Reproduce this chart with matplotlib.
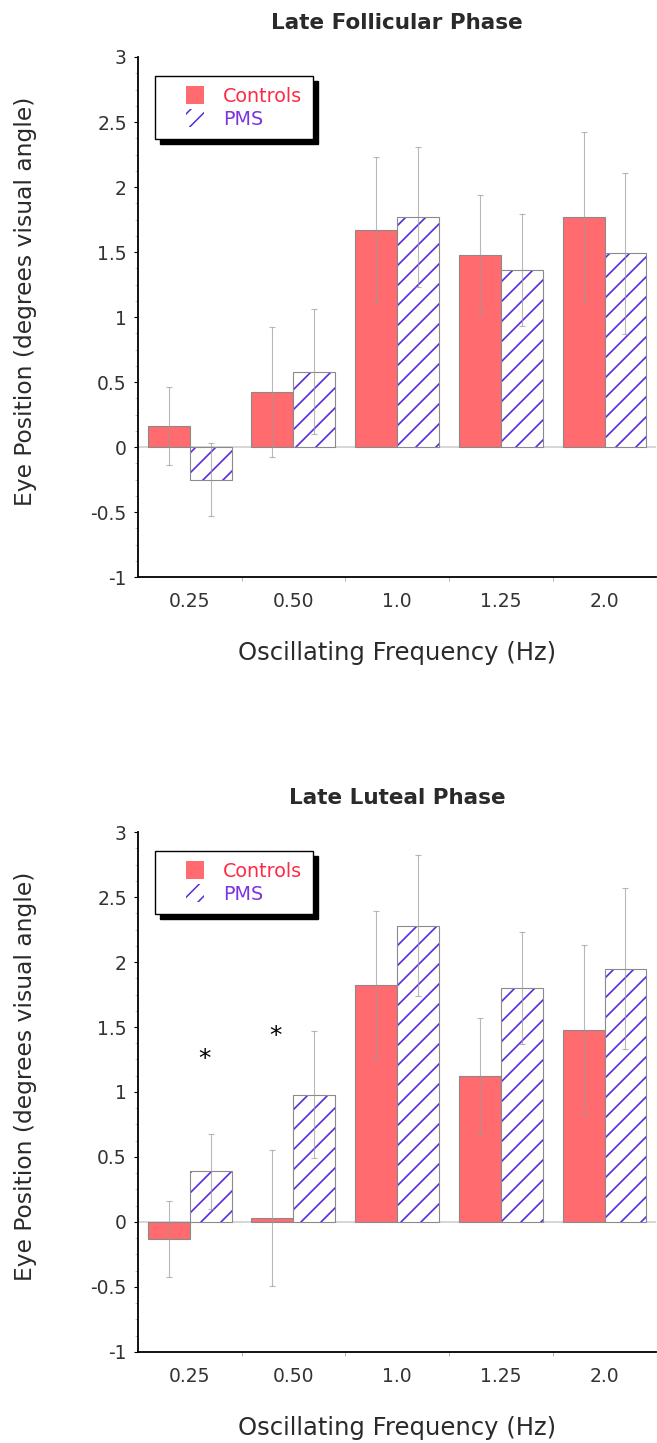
import numpy as np
import matplotlib
matplotlib.use('Agg')
import matplotlib.pyplot as plt
from matplotlib.patches import Patch, Rectangle
from matplotlib.collections import LineCollection
from matplotlib.transforms import IdentityTransform
from matplotlib.legend_handler import HandlerPatch

# Frequencies tested and group names
freq_labels = ['0.25', '0.50', '1.0', '1.25', '2.0']
groups = ['Controls', 'PMS']

# Late follicular phase: mean eye position and error
follicular_controls = [0.16, 0.42, 1.67, 1.48, 1.77]
follicular_controls_err = [0.30, 0.50, 0.56, 0.46, 0.65]
follicular_pms = [-0.25, 0.58, 1.77, 1.36, 1.49]
follicular_pms_err = [0.28, 0.48, 0.54, 0.43, 0.62]

# Late luteal phase: mean eye position and error
luteal_controls = [-0.13, 0.03, 1.82, 1.12, 1.48]
luteal_controls_err = [0.29, 0.52, 0.57, 0.45, 0.65]
luteal_pms = [0.39, 0.98, 2.28, 1.80, 1.95]
luteal_pms_err = [0.29, 0.49, 0.54, 0.43, 0.62]

# Significance markers (x in group units from the left edge, y in data units)
star_x = [0.64, 1.33]
star_y = [1.25, 1.43]

red = '#ff6b6e'
hatch_col = '#5a2ae0'
edge_col = '#8a8a8a'
err_col = '#9a9a9a'
text_col = '#2a2a2a'

plt.rcParams['font.family'] = 'DejaVu Sans'
plt.rcParams['hatch.linewidth'] = 1.1


def hatch_bars(ax, bars, spacing=20):
    # diagonal hatch drawn in pixel space so the line spacing can be set freely
    for rect in bars:
        bb = rect.get_window_extent()
        c0 = np.floor((bb.y0 - bb.x1) / spacing) * spacing
        segs = []
        for c in np.arange(c0, bb.y1 - bb.x0 + spacing, spacing):
            segs.append([(bb.x0 - 2, bb.x0 - 2 + c), (bb.x1 + 2, bb.x1 + 2 + c)])
        lc = LineCollection(segs, colors=hatch_col, linewidths=1.2,
                            transform=IdentityTransform(), zorder=2.5)
        ax.add_collection(lc, autolim=False)
        lc.set_clip_path(rect)


def square_handle(legend, orig_handle, xdescent, ydescent, width, height, fontsize):
    s = 13.0
    return Rectangle((-xdescent + width - s, -ydescent + (height - s) / 2), s, s)


def draw_panel(ax, title, controls, controls_err, pms, pms_err, stars=None):
    x = np.arange(len(freq_labels)) + 0.5
    w = 0.405

    ax.axhline(0, color='#cfcfcf', lw=1.2, zorder=1)

    ax.bar(x - w / 2, controls, w, color=red, edgecolor=edge_col, lw=0.8, zorder=2)
    pms_bars = ax.bar(x + w / 2, pms, w, color='white', lw=0, zorder=2)
    ax.bar(x + w / 2, pms, w, fill=False, edgecolor=edge_col, lw=0.8, zorder=3)

    ax.errorbar(x - w / 2, controls, yerr=controls_err, fmt='none', ecolor=err_col,
                elinewidth=0.8, capsize=2, capthick=0.8, alpha=0.7, zorder=4)
    ax.errorbar(x + w / 2, pms, yerr=pms_err, fmt='none', ecolor=err_col,
                elinewidth=0.8, capsize=2, capthick=0.8, alpha=0.7, zorder=4)

    if stars is not None:
        for sx, sy in zip(*stars):
            ax.text(sx, sy, '*', ha='center', va='center', fontsize=18, color='black')

    ax.set_xlim(0, len(freq_labels))
    ax.set_ylim(-1, 3)
    hatch_bars(ax, pms_bars)

    # group boundaries get the ticks, group centres get the labels
    ax.set_xticks(np.arange(1, len(freq_labels)))
    ax.set_xticklabels([])
    ax.set_xticks(x, minor=True)
    ax.set_xticklabels(freq_labels, minor=True)
    ax.tick_params(axis='x', which='major', length=3, color='#bbbbbb')
    ax.tick_params(axis='x', which='minor', length=0, pad=11, labelsize=13.5, labelcolor='#333333')

    ax.set_yticks([-1, -0.5, 0, 0.5, 1, 1.5, 2, 2.5, 3])
    ax.set_yticklabels(['-1', '-0.5', '0', '0.5', '1', '1.5', '2', '2.5', '3'])
    ax.set_yticks(np.arange(-1, 3.01, 0.125), minor=True)
    ax.tick_params(axis='y', which='major', length=3, direction='out', labelsize=13.5,
                   labelcolor='#333333', pad=5)
    ax.tick_params(axis='y', which='minor', length=2.5, direction='out', color='#bbbbbb')

    for side in ['top', 'right']:
        ax.spines[side].set_visible(False)
    ax.spines['left'].set_linewidth(1.3)
    ax.spines['bottom'].set_linewidth(1.3)

    ax.set_title(title, fontsize=15.5, fontweight='bold', color=text_col, pad=20)
    ax.set_xlabel('Oscillating Frequency (Hz)', fontsize=17.5, color=text_col)
    ax.set_ylabel('Eye Position (degrees visual angle)', fontsize=16.8, color=text_col)
    ax.xaxis.set_label_coords(0.5, -0.123)
    ax.yaxis.set_label_coords(-0.195, 0.531)

    handles = [Patch(facecolor=red, edgecolor='none', lw=0),
               Patch(facecolor='white', edgecolor=hatch_col, hatch='//', lw=0)]
    leg = ax.legend(handles, groups, loc='upper left', bbox_to_anchor=(0.033, 0.963),
                    fontsize=13.8, frameon=True, fancybox=False, edgecolor='black',
                    shadow={'ox': 3.5, 'oy': -3.5, 'color': 'black', 'alpha': 1},
                    borderpad=0.55, handlelength=2.0, handleheight=1.0, handletextpad=1.0,
                    labelspacing=0.2, borderaxespad=0,
                    handler_map={Patch: HandlerPatch(patch_func=square_handle)})
    leg.get_frame().set_linewidth(1.0)
    leg.get_texts()[0].set_color('#ff2a45')
    leg.get_texts()[1].set_color('#7a35e0')


fig = plt.figure(figsize=(6.57, 14.43), dpi=100)
ax1 = fig.add_axes([0.210, 0.6001, 0.789, 0.3604])
ax2 = fig.add_axes([0.210, 0.0631, 0.789, 0.3603])

draw_panel(ax1, 'Late Follicular Phase', follicular_controls, follicular_controls_err,
           follicular_pms, follicular_pms_err)
draw_panel(ax2, 'Late Luteal Phase', luteal_controls, luteal_controls_err,
           luteal_pms, luteal_pms_err, stars=(star_x, star_y))

fig.savefig('out.png', dpi=100)
